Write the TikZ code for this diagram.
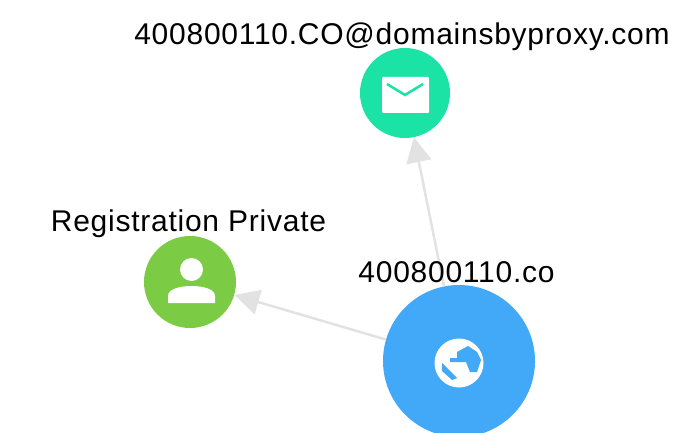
\documentclass[tikz,border=0pt]{standalone}
\usepackage{fontspec}
\setmainfont[LetterSpace=2.5]{Liberation Sans}
\usetikzlibrary{arrows.meta,positioning}
\definecolor{mailc}{HTML}{1BE2A5}
\definecolor{personc}{HTML}{7CCB45}
\definecolor{domainc}{HTML}{42A9F8}
\definecolor{linkc}{HTML}{E2E2E2}
\tikzset{ent/.style={circle, inner sep=0pt, text=white},
  lbl/.style={font=\fontsize{30}{30}\selectfont, text=black, inner sep=0pt},
  link/.style={draw=linkc, line width=2.5pt, -{Triangle[length=25pt,width=25pt,fill=linkc]}}}

\begin{document}
\begin{tikzpicture}[x=1pt, y=-1pt]
\useasboundingbox (0,0) rectangle (682,433);
\begin{scope}
\clip (0,0) rectangle (682,433);
\node[ent, fill=mailc, minimum size=90pt] (mail) at (405,93) {};
\node[ent, fill=personc, minimum size=92pt] (person) at (190,282) {};
\node[ent, fill=domainc, minimum size=152pt] (domain) at (459,361) {};
\end{scope}
\path[link] (domain) edge (mail)
	(domain) edge (person);
\node[lbl] (maillbl) at (402,37) {400800110.CO@domainsbyproxy.com};
\node[lbl] (personlbl) at (188.5,224) {Registration Private};
\node[lbl] (domainlbl) at (456.5,272) {400800110.co};
% envelope
\fill[white, rounded corners=1pt] (382,77) rectangle (429,113);
\draw[mailc, line width=2.5pt] (387,84) -- (405,95) -- (423,84);
% person
\fill[white] (191.5,269.5) circle (11.5);
\fill[white] (168,303) -- (168,296) .. controls (168,289) and (180,286) .. (191.5,286)
  .. controls (203,286) and (215,289) .. (215,296) -- (215,303) -- cycle;
% globe
\fill[white] (459,363) circle (24.5);
\fill[domainc] (450,358) -- (457,358) -- (457,352) -- (468,346) -- (477,352) -- (481,360)
  -- (477,372) -- (470,372) -- (466,362) -- (450,362) -- cycle;
\fill[domainc] (442,363) -- (457,378) -- (452,380) -- (442,371) -- cycle;
\end{tikzpicture}
\end{document}
